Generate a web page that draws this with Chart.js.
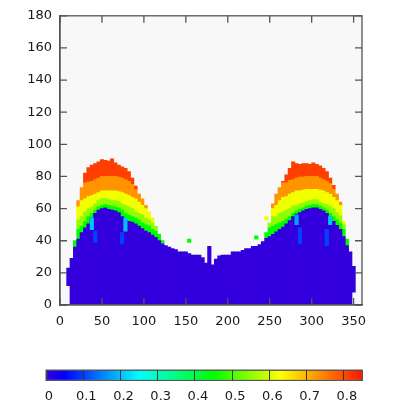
<!DOCTYPE html>
<html>
<head>
<meta charset="utf-8">
<script src="https://cdn.jsdelivr.net/npm/chart.js"></script>
<style>
  body { margin: 0; background: #fff; }
  #wrap { position: relative; width: 407px; height: 407px; }
  #heat { position: absolute; left: 0; top: 0; }
  #bar { position: absolute; left: 0; top: 355px; }
</style>
</head>
<body>
<div id="wrap">
  <canvas id="heat" width="407" height="335"></canvas>
  <canvas id="bar" width="407" height="52"></canvas>
</div>
<script>
// column centres (4 degree bins)
const xCenters = [
  10,14,18,22,26,30,34,38,42,46,
  50,54,58,62,66,70,74,78,82,86,
  90,94,98,102,106,110,114,118,122,126,
  130,134,138,142,146,150,154,158,162,166,
  170,174,178,182,186,190,194,198,202,206,
  210,214,218,222,226,230,234,238,242,246,
  250,254,258,262,266,270,274,278,282,286,
  290,294,298,302,306,310,314,318,322,326,
  330,334,338,342,346,350
]
const N = null
// bottom of the blue (near zero) region
const blueLow = [
  12,0,0,0,0,0,0,0,0,0,
  0,0,0,0,0,0,0,0,0,0,
  0,0,0,0,0,0,0,0,0,0,
  0,0,0,0,0,0,0,0,0,0,
  0,0,0,0,0,0,0,0,0,0,
  0,0,0,0,0,0,0,0,0,0,
  0,0,0,0,0,0,0,0,0,0,
  0,0,0,0,0,0,0,0,0,0,
  0,0,0,0,0,8
]
// top of each value level, per column
const blueTop = [
  23,29,36,41,45,48,50.5,54,57,59,
  60,60.5,59.5,59,58.5,57.5,55,53,52,51.5,
  50.5,49,47.5,46,45,43.5,42,40,38,37,
  36,35,34.5,33,33,33,32,31,31,31,
  29.5,26,36.5,25,28.5,30.5,31,31,31,33,
  33,33,34,35,35,36.5,36.5,37.5,39.5,41.5,
  42.5,44,45.5,47,48.5,50.5,52.5,55,56.5,57.5,
  58.5,59.5,60,60.5,60.5,59.5,58.5,57,54.5,52,
  49.5,47,42.5,37,33,24
]
const greenTop = [
  N,N,40,47,49,52,55,57,59,61,
  62,62.5,62,61.5,61,60.5,59,57,56,55,
  54,53,51,50,49,47,46,44,40,N,
  N,N,N,N,N,N,N,N,N,N,
  N,N,N,N,N,N,N,N,N,N,
  N,N,N,N,N,N,N,N,N,45,
  48,49,50,51,52,53.5,55,57,58.5,59.5,
  60.5,61.5,62,62.5,62.5,61.5,60.5,59,57,55,
  53,51,47,41,N,N
]
const limeTop = [
  N,N,N,53,55,58,60,61,63,65,
  66,66,65.5,65,65,64.5,63,62,61,60,
  58,57,56,54,53,51,49,N,N,N,
  N,N,N,N,N,N,N,N,N,N,
  N,N,N,N,N,N,N,N,N,N,
  N,N,N,N,N,N,N,N,N,N,
  51,55,55,57,58,59,60,61.5,62,63,
  63.5,64.5,65,65.5,65.5,64,63,62.5,61.5,60,
  57.5,55.5,50,N,N,N
]
const yellowTop = [
  N,N,N,61,65,66,67.5,68,69,70,
  71,71,71,71,71,70.5,70,69,68,67,
  66,64,62,60,58,54,N,N,N,N,
  N,N,N,N,N,N,N,N,N,N,
  N,N,N,N,N,N,N,N,N,N,
  N,N,N,N,N,N,N,N,N,N,
  N,60,62,65,67,67.5,69,70,71,71,
  71.5,72,72,72,72,71.5,71,70,69,67,
  65,62,52,N,N,N
]
const orangeTop = [
  N,N,N,65,73,76,76.5,77,78,79,
  80,80,80,80,80,79.5,79,78,77,75,
  72,69,66,62,N,N,N,N,N,N,
  N,N,N,N,N,N,N,N,N,N,
  N,N,N,N,N,N,N,N,N,N,
  N,N,N,N,N,N,N,N,N,N,
  N,63,69,73,76,76,77.5,78,79,79.5,
  79.5,80,80,80,80,79,78,77,75.5,72,
  69,64,N,N,N,N
]
const redTop = [
  N,N,N,N,N,82,85.5,87,88,89,
  90.5,90,89.5,91,88.5,87,86,85,83,79,
  74,N,N,N,N,N,N,N,N,N,
  N,N,N,N,N,N,N,N,N,N,
  N,N,N,N,N,N,N,N,N,N,
  N,N,N,N,N,N,N,N,N,N,
  N,N,N,N,77,81,85,89,88,87.5,
  88,88,87.5,88.5,87.5,86.5,85,83,79,74.5,
  N,N,N,N,N,N
]
const layerValues = [0, 0.45, 0.55, 0.62, 0.73, 0.81]

// odd single cells (streaks inside the blue, stray points)
const speckX = [38, 42, 74, 78, 282, 286, 318, 322, 154, 234, 246]
const speckLow = [47, 39, 38, 46, 50, 38, 37, 50, 39, 41, 53]
const speckTop = [54, 46, 45, 54, 56, 48, 47, 55, 41, 43, 55]
const speckVal = [0.2, 0.1, 0.1, 0.2, 0.18, 0.1, 0.1, 0.2, 0.45, 0.45, 0.62]

const xTicks = [0, 50, 100, 150, 200, 250, 300, 350]
const yTicks = [0, 20, 40, 60, 80, 100, 120, 140, 160, 180]
const cbTicks = [0, 0.1, 0.2, 0.3, 0.4, 0.5, 0.6, 0.7, 0.8]
const cbMax = 0.85

// colour map
const cmapStops = [0, 0.05, 0.25, 0.45, 0.63, 0.85]
const cmapRGB = [[51,0,221],[0,0,255],[0,255,255],[0,255,0],[255,255,0],[255,20,0]]

function cmapColor(v) {
	for (let i = 1; i < cmapStops.length; i++) {
		if (v <= cmapStops[i]) {
			let t = (v - cmapStops[i-1]) / (cmapStops[i] - cmapStops[i-1])
			let c = cmapRGB[i-1].map((a, k) => Math.round(a + (cmapRGB[i][k] - a) * t))
			return 'rgb(' + c.join(',') + ')'
		}
	}
	return 'rgb(' + cmapRGB[cmapRGB.length-1].join(',') + ')'
}

Chart.defaults.font.family = 'DejaVu Sans'
Chart.defaults.font.size = 13
Chart.defaults.color = '#1a1a1a'

// frame for both charts, registered globally
// heat map: grey plot background, frame and inward ticks on all sides
// colour bar (indexAxis y): a plain outline
Chart.register({
	id: 'plotFrame',
	beforeDatasetsDraw(chart) {
		if (chart.options.indexAxis == 'y') return
		let a = chart.chartArea
		chart.ctx.save()
		chart.ctx.fillStyle = '#f8f8f8'
		chart.ctx.fillRect(a.left, a.top, a.right - a.left, a.bottom - a.top)
		chart.ctx.restore()
	},
	afterDraw(chart) {
		let ctx = chart.ctx, a = chart.chartArea
		ctx.save()
		ctx.strokeStyle = '#555'
		if (chart.options.indexAxis == 'y') {
			ctx.lineWidth = 1
			ctx.strokeRect(a.left, a.top, a.right - a.left, a.bottom - a.top)
			ctx.restore()
			return
		}
		let sx = chart.scales.x, sy = chart.scales.y
		ctx.lineWidth = 1.3
		ctx.beginPath()
		xTicks.forEach(v => {
			let p = sx.getPixelForValue(v)
			ctx.moveTo(p, a.bottom); ctx.lineTo(p, a.bottom - 7)
			ctx.moveTo(p, a.top); ctx.lineTo(p, a.top + 7)
		})
		yTicks.forEach(v => {
			let p = sy.getPixelForValue(v)
			ctx.moveTo(a.left, p); ctx.lineTo(a.left + 7, p)
			ctx.moveTo(a.right, p); ctx.lineTo(a.right - 7, p)
		})
		ctx.stroke()
		ctx.strokeRect(a.left, a.top, a.right - a.left, a.bottom - a.top)
		ctx.restore()
	}
})

const layerTops = [blueTop, greenTop, limeTop, yellowTop, orangeTop, redTop]

const layerSets = layerTops.map((tops, k) => {
	let data = []
	xCenters.forEach((x, i) => {
		if (tops[i] == null) return
		let low = k == 0 ? blueLow[i] : null
		for (let j = k - 1; j >= 0 && low == null; j--) {
			if (layerTops[j][i] != null) low = layerTops[j][i]
		}
		data.push({x: x, y: [low, tops[i]]})
	})
	return {data: data, backgroundColor: cmapColor(layerValues[k])}
})

const speckSet = {
	data: speckX.map((x, i) => ({x: x, y: [speckLow[i], speckTop[i]]})),
	backgroundColor: speckVal.map(cmapColor)
}

new Chart('heat', {
	type: 'bar',
	data: { datasets: [speckSet].concat(layerSets) },
	options: {
		responsive: false,
		animation: false,
		layout: { padding: { top: 10, right: 45, left: 0, bottom: 0 } },
		plugins: { legend: { display: false }, tooltip: { enabled: false } },
		datasets: { bar: { grouped: false, barPercentage: 1, categoryPercentage: 1, inflateAmount: 0.4 } },
		scales: {
			x: {
				type: 'linear', min: 0, max: 360, offset: false,
				grid: { display: false, drawTicks: false },
				border: { display: true, color: '#555', width: 1.3, z: 1 },
				ticks: { padding: 9, maxRotation: 0, autoSkip: false },
				afterBuildTicks: s => { s.ticks = xTicks.map(v => ({value: v})) },
				afterFit: s => { s.height = 30 }
			},
			y: {
				type: 'linear', min: 0, max: 180,
				grid: { display: false, drawTicks: false },
				border: { display: true, color: '#555', width: 1.3, z: 1 },
				ticks: { padding: 8, autoSkip: false },
				afterBuildTicks: s => { s.ticks = yTicks.map(v => ({value: v})) },
				afterFit: s => { s.width = 60 }
			}
		}
	}
})

// colour bar
new Chart('bar', {
	type: 'bar',
	data: {
		labels: ['cb'],
		datasets: [{
			data: [[0, cbMax]],
			backgroundColor: ctx => {
				let chart = ctx.chart, xs = chart.scales.x
				if (!chart.chartArea || !xs) return cmapColor(0.4)
				let g = chart.ctx.createLinearGradient(xs.getPixelForValue(0), 0, xs.getPixelForValue(cbMax), 0)
				cmapStops.forEach((s, i) => g.addColorStop(s / cbMax, 'rgb(' + cmapRGB[i].join(',') + ')'))
				return g
			},
			borderColor: '#555',
			borderWidth: 1,
			borderSkipped: false,
			barPercentage: 1,
			categoryPercentage: 1
		}]
	},
	options: {
		indexAxis: 'y',
		responsive: false,
		animation: false,
		layout: { padding: { top: 15, right: 44.5, left: 46, bottom: 0 } },
		plugins: { legend: { display: false }, tooltip: { enabled: false } },
		scales: {
			y: { display: false },
			x: {
				type: 'linear', min: 0, max: cbMax, offset: false,
				grid: { color: '#333', drawTicks: false, z: 1 },
				border: { display: false },
				ticks: { padding: 8, labelOffset: 3, autoSkip: false, maxRotation: 0, callback: v => String(v) },
				afterBuildTicks: s => { s.ticks = cbTicks.map(v => ({value: v})) },
				afterFit: s => { s.height = 26.5 }
			}
		}
	}
})
</script>
</body>
</html>
